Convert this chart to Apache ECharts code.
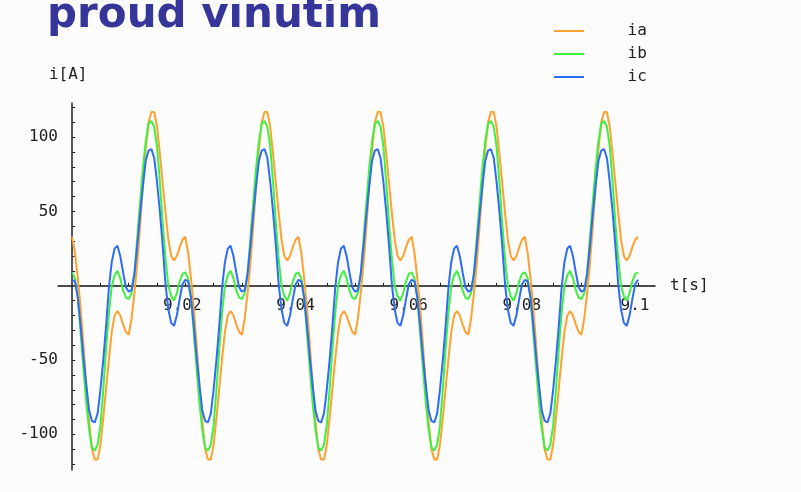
<!DOCTYPE html>
<html>
<head>
<meta charset="utf-8">
<title>proud vinutím</title>
<script src="https://cdn.jsdelivr.net/npm/echarts@6/dist/echarts.min.js"></script>
<style>
html,body{margin:0;padding:0;background:#fbfcfb;}
#chart{width:801px;height:492px;}
</style>
</head>
<body>
<div id="chart"></div>
<script>
// x is kept in ms after t = 9.000 s, one sample every 0.5 ms (9.000 .. 9.100 s)
const T_START = 9.0;
const T_STEP_MS = 0.5;

const ia = [
  33, 22, 5, -15, -40, -67, -92, -110, -117, -117, -107, -89, -69, -49, -31, -20, -17, -20, -26, -31, -33, -22, -5, 15, 40, 67, 92, 110, 117, 117, 107, 89, 69, 49, 31, 20, 17, 20, 26, 31,
  33, 22, 5, -15, -40, -67, -92, -110, -117, -117, -107, -89, -69, -49, -31, -20, -17, -20, -26, -31, -33, -22, -5, 15, 40, 67, 92, 110, 117, 117, 107, 89, 69, 49, 31, 20, 17, 20, 26, 31,
  33, 22, 5, -15, -40, -67, -92, -110, -117, -117, -107, -89, -69, -49, -31, -20, -17, -20, -26, -31, -33, -22, -5, 15, 40, 67, 92, 110, 117, 117, 107, 89, 69, 49, 31, 20, 17, 20, 26, 31,
  33, 22, 5, -15, -40, -67, -92, -110, -117, -117, -107, -89, -69, -49, -31, -20, -17, -20, -26, -31, -33, -22, -5, 15, 40, 67, 92, 110, 117, 117, 107, 89, 69, 49, 31, 20, 17, 20, 26, 31,
  33, 22, 5, -15, -40, -67, -92, -110, -117, -117, -107, -89, -69, -49, -31, -20, -17, -20, -26, -31, -33, -22, -5, 15, 40, 67, 92, 110, 117, 117, 107, 89, 69, 49, 31, 20, 17, 20, 26, 31,
  33
];
const ib = [
  9, 5, -8, -32, -56, -79, -97, -109, -111, -107, -94, -70, -42, -18, 0, 7, 10, 5, -3, -8, -9, -5, 8, 32, 56, 79, 97, 109, 111, 107, 94, 70, 42, 18, 0, -7, -10, -5, 3, 8,
  9, 5, -8, -32, -56, -79, -97, -109, -111, -107, -94, -70, -42, -18, 0, 7, 10, 5, -3, -8, -9, -5, 8, 32, 56, 79, 97, 109, 111, 107, 94, 70, 42, 18, 0, -7, -10, -5, 3, 8,
  9, 5, -8, -32, -56, -79, -97, -109, -111, -107, -94, -70, -42, -18, 0, 7, 10, 5, -3, -8, -9, -5, 8, 32, 56, 79, 97, 109, 111, 107, 94, 70, 42, 18, 0, -7, -10, -5, 3, 8,
  9, 5, -8, -32, -56, -79, -97, -109, -111, -107, -94, -70, -42, -18, 0, 7, 10, 5, -3, -8, -9, -5, 8, 32, 56, 79, 97, 109, 111, 107, 94, 70, 42, 18, 0, -7, -10, -5, 3, 8,
  9, 5, -8, -32, -56, -79, -97, -109, -111, -107, -94, -70, -42, -18, 0, 7, 10, 5, -3, -8, -9, -5, 8, 32, 56, 79, 97, 109, 111, 107, 94, 70, 42, 18, 0, -7, -10, -5, 3, 8,
  9
];
const ic = [
  4, 3, -8, -27, -48, -67, -84, -91, -92, -86, -70, -50, -27, -1, 16, 25, 27, 20, 9, -1, -4, -3, 8, 27, 48, 67, 84, 91, 92, 86, 70, 50, 27, 1, -16, -25, -27, -20, -9, 1,
  4, 3, -8, -27, -48, -67, -84, -91, -92, -86, -70, -50, -27, -1, 16, 25, 27, 20, 9, -1, -4, -3, 8, 27, 48, 67, 84, 91, 92, 86, 70, 50, 27, 1, -16, -25, -27, -20, -9, 1,
  4, 3, -8, -27, -48, -67, -84, -91, -92, -86, -70, -50, -27, -1, 16, 25, 27, 20, 9, -1, -4, -3, 8, 27, 48, 67, 84, 91, 92, 86, 70, 50, 27, 1, -16, -25, -27, -20, -9, 1,
  4, 3, -8, -27, -48, -67, -84, -91, -92, -86, -70, -50, -27, -1, 16, 25, 27, 20, 9, -1, -4, -3, 8, 27, 48, 67, 84, 91, 92, 86, 70, 50, 27, 1, -16, -25, -27, -20, -9, 1,
  4, 3, -8, -27, -48, -67, -84, -91, -92, -86, -70, -50, -27, -1, 16, 25, 27, 20, 9, -1, -4, -3, 8, 27, 48, 67, 84, 91, 92, 86, 70, 50, 27, 1, -16, -25, -27, -20, -9, 1,
  4
];

const seriesNames = ['ia', 'ib', 'ic'];
const seriesColors = ['#ffa030', '#3ff03f', '#2d6cf6'];

const xLabelMs = [20, 40, 60, 80, 100];
const xTickMs = [5, 10, 15, 20, 25, 30, 35, 40, 45, 50, 55, 60, 65, 70, 75, 80, 85, 90, 95, 100];
const yLabels = [-100, -50, 50, 100];
const yTicks = [-120, -110, -100, -90, -80, -70, -60, -50, -40, -30, -20, -10, 10, 20, 30, 40, 50, 60, 70, 80, 90, 100, 110, 120];

const MONO = "'DejaVu Sans Mono', 'Liberation Mono', monospace";

function toPairs(arr) {
  return arr.map(function (v, i) { return [i * T_STEP_MS, v]; });
}

let chart = echarts.init(document.getElementById('chart'));
let options = {
  backgroundColor: '#fbfcfb',
  animation: false,
  graphic: [{
    type: 'text',
    left: 47,
    top: -5,
    style: {
      text: 'proud vinutím',
      font: 'bold 42px "DejaVu Sans"',
      fill: '#35359a'
    }
  }],
  legend: {
    orient: 'vertical',
    left: 554,
    top: 23,
    padding: 0,
    itemGap: 7,
    itemWidth: 30,
    itemHeight: 2,
    icon: 'rect',
    data: seriesNames,
    formatter: function (name) { return '    ' + name; },
    textStyle: { fontFamily: MONO, fontSize: 16, color: '#222' }
  },
  grid: {
    left: 58,
    right: 146,
    top: 103,
    bottom: 22
  },
  xAxis: {
    type: 'value',
    min: -2.5,
    max: 103,
    name: 't[s]',
    nameLocation: 'end',
    nameGap: 15,
    nameTextStyle: { fontFamily: MONO, fontSize: 16, color: '#222', padding: [6, 0, 0, 0] },
    axisLine: { onZero: true, lineStyle: { color: '#111', width: 1.5 } },
    axisTick: { show: true, inside: true, length: 3, customValues: xTickMs, lineStyle: { color: '#222' } },
    axisLabel: {
      customValues: xLabelMs,
      // labels sit on the grid edge, pull them up to the zero line
      margin: -172,
      padding: [0, 6, 0, 0],
      fontFamily: MONO,
      fontSize: 16,
      color: '#222',
      formatter: function (v) { return String(+(T_START + v / 1000).toFixed(2)); }
    },
    splitLine: { show: false }
  },
  yAxis: {
    type: 'value',
    min: -124,
    max: 123,
    name: 'i[A]',
    nameLocation: 'end',
    nameGap: 20,
    nameTextStyle: { fontFamily: MONO, fontSize: 16, color: '#222', align: 'center', padding: [0, 8, 0, 0] },
    axisLine: { onZero: true, lineStyle: { color: '#222', width: 1.5 } },
    axisTick: { show: true, inside: true, length: 3, customValues: yTicks, lineStyle: { color: '#222' } },
    axisLabel: { customValues: yLabels, margin: 0, fontFamily: MONO, fontSize: 16, color: '#222' },
    splitLine: { show: false }
  },
  series: [
    { name: 'ia', type: 'line', data: toPairs(ia), showSymbol: false, color: seriesColors[0], lineStyle: { width: 2 } },
    { name: 'ib', type: 'line', data: toPairs(ib), showSymbol: false, color: seriesColors[1], lineStyle: { width: 2 } },
    { name: 'ic', type: 'line', data: toPairs(ic), showSymbol: false, color: seriesColors[2], lineStyle: { width: 2 } }
  ]
};
chart.setOption(options, true);
</script>
</body>
</html>
